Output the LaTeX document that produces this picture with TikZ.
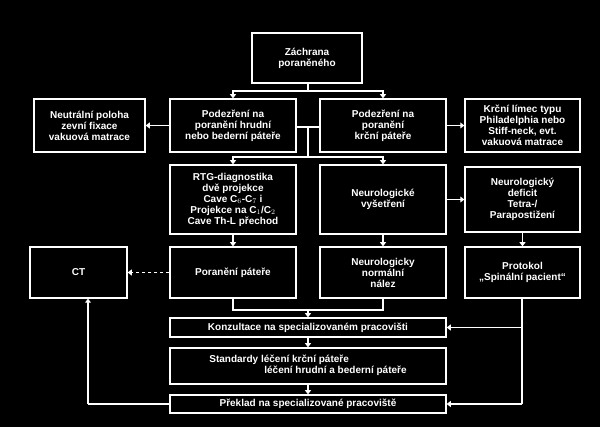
\documentclass[tikz,border=0pt]{standalone}
\usepackage{fontspec}
\setmainfont{Liberation Sans}
\usetikzlibrary{arrows.meta}
\begin{document}
\begin{tikzpicture}[x=1pt,y=-1pt,
  every node/.style={font=\fontsize{10}{11}\selectfont\bfseries, text=white, align=center, inner sep=1pt},
  box/.style={draw=white, line width=1.5pt},
  con/.style={draw=white, line width=1.5pt},
  arr/.style={con, -{Triangle[length=4pt,width=6pt]}}]
\fill[black] (0,0) rectangle (600,427);
\useasboundingbox (0,0) rectangle (600,427);
\newcommand\bx[6]{\node[box, minimum width=#4-#2, minimum height=#5-#3] (#1) at ({(#2+#4)/2},{(#3+#5)/2}) {#6};}
\bx{z}{252}{33}{362}{83}{Záchrana\\poraněného}
\bx{n}{34}{99}{145}{152}{Neutrální poloha\\zevní fixace\\vakuová matrace}
\bx{pl}{170}{99}{296}{152}{Podezření na\\poranění hrudní\\nebo bederní páteře}
\bx{pr}{320}{99}{446}{152}{Podezření na\\poranění\\krční páteře}
\bx{k}{465}{99}{580}{152}{Krční límec typu\\Philadelphia nebo\\Stiff-neck, evt.\\vakuová matrace}
\bx{rtg}{170}{165}{296}{234}{RTG-diagnostika\\dvě projekce\\Cave C$_6$-C$_7$ i\\Projekce na C$_1$/C$_2$\\Cave Th-L přechod}
\bx{nv}{320}{165}{446}{234}{Neurologické\\vyšetření}
\bx{nd}{465}{167}{580}{232}{Neurologický\\deficit\\Tetra-/\\Parapostižení}
\bx{ct}{30}{247}{127}{298}{CT}
\bx{pp}{170}{247}{296}{298}{Poranění páteře}
\bx{nn}{320}{247}{446}{298}{Neurologicky\\normální\\nález}
\bx{pt}{465}{247}{580}{298}{Protokol\\„Spinální pacient“}
\bx{ko}{170}{318}{446}{337}{Konzultace na specializovaném pracovišti}
\bx{st}{170}{348}{446}{384}{\begin{tabular}{@{}l@{}}Standardy léčení krční páteře\\\hspace{5.5em}léčení hrudní a bederní páteře\end{tabular}}
\bx{pk}{170}{395}{446}{413}{Překlad na specializované pracoviště}
% top branch
\coordinate (b1) at (308,91);
\draw[con] (z.south -| b1) -- (b1);
\draw[arr] (b1) -| (pl.north);
\draw[arr] (b1) -| (pr.north);
\draw[arr] (pl.west) -- (n.east);
\draw[arr] (pr.east) -- (k.west);
% middle branch
\coordinate (m1) at (308,127);
\coordinate (m2) at (308,157);
\draw[con] (pl.east |- m1) -- (pr.west |- m1);
\draw[con] (m1) -- (m2);
\draw[arr] (m2) -| (rtg.north);
\draw[arr] (m2) -| (nv.north);
\draw[arr] (nv.east |- nd.west) -- (nd.west);
\draw[arr] (rtg.south) -- (pp.north);
\draw[arr] (nv.south) -- (nn.north);
\draw[arr] (nd.south) -- (pt.north);
\draw[arr, dashed] (pp.west) -- (ct.east);
% join
\coordinate (j) at (308,310);
\draw[con] (pp.south) |- (j) -| (nn.south);
\draw[arr] (j) -- (ko.north -| j);
\draw[arr] (ko.south -| j) -- (st.north -| j);
\draw[arr] (st.south -| j) -- (pk.north -| j);
% right side
\coordinate (r) at (522,404);
\draw[con] (pt.south -| r) -- (r);
\draw[arr] (r |- ko.east) -- (ko.east);
\draw[arr] (r) -- (pk.east);
% left side
\coordinate (l) at (88,404);
\draw[con] (pk.west) -- (l);
\draw[arr] (l) -- (ct.south -| l);
\end{tikzpicture}
\end{document}
